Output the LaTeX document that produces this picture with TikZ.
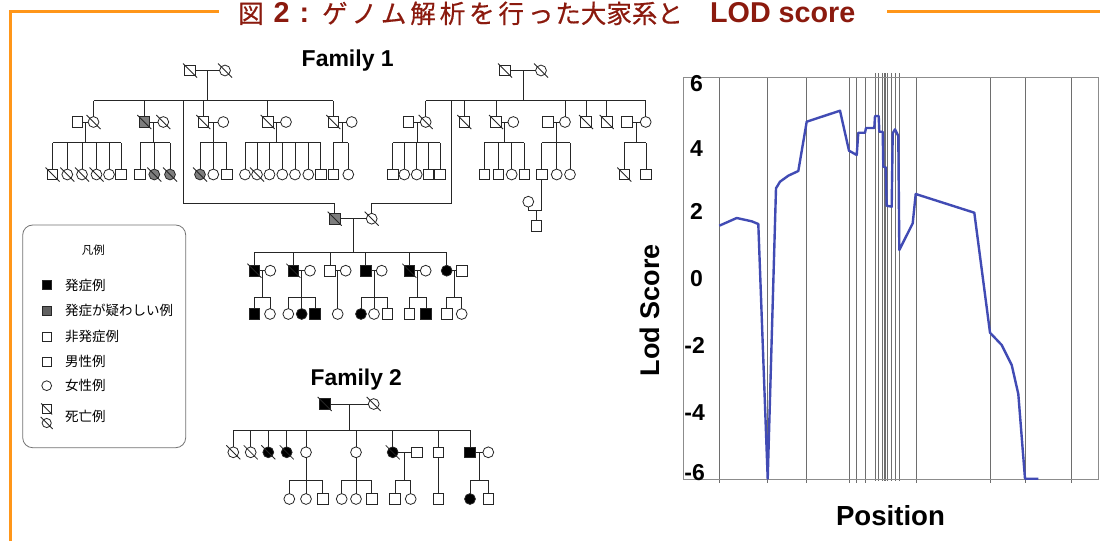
\documentclass[tikz,border=0pt]{standalone}
\usepackage{fontspec}
\setmainfont{Liberation Sans}
\newfontfamily\cjk{Noto Sans CJK JP}
\newfontfamily\cjkb[FakeBold=0.5]{Noto Sans CJK JP}
\definecolor{ttl}{RGB}{139,26,14}
\definecolor{org}{RGB}{255,150,25}
\definecolor{crv}{RGB}{65,75,180}
\definecolor{susc}{RGB}{125,125,125}
\definecolor{grd}{RGB}{110,110,110}
\newcommand\jb[2]{\makebox[#1][c]{#2}}
\newcommand\fs[1]{\fontsize{#1}{#1}\selectfont}
\newcommand\kids[6]{%
  \draw[pl] (#1,#2) -- (#1,#3);
  \draw[pl] (#4.north |- 0,#3) -- (#5.north |- 0,#3);
  \foreach \kk in {#6} {\draw[pl] (\kk.north) -- (\kk.north |- 0,#3);}%
}
\tikzset{
  pl/.style={draw=black!85, line width=0.8pt},
  sym/.style={draw=black!85, line width=0.8pt, inner sep=0pt, outer sep=0pt, fill=white},
  M/.style={sym, rectangle, minimum size=10.6pt},
  F/.style={sym, circle, minimum size=10.8pt},
  aff/.style={fill=black},
  sus/.style={fill=susc},
  lm/.style={sym, rectangle, minimum size=9.6pt},
  lf/.style={sym, circle, minimum size=9.8pt},
  ltxt/.style={anchor=west, inner sep=0pt, font=\cjk\fs{13.5}},
  ylab/.style={anchor=east, inner sep=0pt, font=\bfseries\fs{23}},
  ttxt/.style={inner sep=0pt, text=ttl},
}
\begin{document}
\begin{tikzpicture}[x=1pt,y=-1pt]
\useasboundingbox (0,0) rectangle (1100,541);
\fill[white] (0,0) rectangle (1100,541);
% ---------- frame and title ----------
\draw[org, line width=2.7pt] (10.7,541) -- (10.7,11.7) -- (219,11.7);
\draw[org, line width=2.7pt] (887,11.7) -- (1100,11.7);
\node[ttxt, anchor=base west, font=\cjkb\fs{25.5}] (t1) at (238,23) {図};
\node[ttxt, anchor=base west, font=\bfseries\fs{28.7}] (t2) at (273.5,22) {2};
\node[ttxt, anchor=base, font=\bfseries\fs{28.7}] (t3) at (304.5,22) {:};
\node[ttxt, anchor=base west, font=\cjkb\fs{25.5}] (t4) at (320,23)
 {\jb{29.4pt}{ゲ}\jb{29.4pt}{ノ}\jb{29.4pt}{ム}\jb{29.4pt}{解}\jb{29.4pt}{析}\jb{29.4pt}{を}\jb{29.4pt}{行}\jb{29.4pt}{っ}\jb{25.5pt}{た}\jb{25.5pt}{大}\jb{25.5pt}{家}\jb{25.5pt}{系}\jb{25.5pt}{と}};
\node[ttxt, anchor=base west, font=\bfseries\fs{28.7}] (t5) at (710,22) {LOD score};
% ---------- labels ----------
\node[anchor=base west, inner sep=0pt, font=\bfseries\fs{23}] (fam1) at (301.5,66.5) {Family 1};
\node[anchor=base west, inner sep=0pt, font=\bfseries\fs{22.8}] (fam2) at (310.5,385) {Family 2};
% ---------- Family 1 left branch ----------
\node[M] (L0s) at (190,70.5) {};
\node[F] (L0c) at (225,70.5) {};
\node[M] (L1s) at (77.5,122) {};
\node[F] (L1c) at (93.5,122) {};
\node[M,sus] (L2s) at (144.3,122) {};
\node[F] (L2c) at (163.3,122) {};
\node[M] (L3s) at (203.3,122) {};
\node[F] (L3c) at (223.3,122) {};
\node[M] (L4s) at (267.7,122) {};
\node[F] (L4c) at (286,122) {};
\node[M] (L5s) at (333.3,122) {};
\node[F] (L5c) at (351.7,122) {};
\node[M] (L1k1) at (52.5,174.5) {};
\node[F] (L1k2) at (67.3,174.5) {};
\node[F] (L1k3) at (82,174.5) {};
\node[F] (L1k4) at (96.5,174.5) {};
\node[F] (L1k5) at (109,174.5) {};
\node[M] (L1k6) at (121,174.5) {};
\node[M] (L2k1) at (140,174.5) {};
\node[F,sus] (L2k2) at (154.3,174.5) {};
\node[F,sus] (L2k3) at (170,174.5) {};
\node[F,sus] (L3k1) at (200,174.5) {};
\node[F] (L3k2) at (213.3,174.5) {};
\node[M] (L3k3) at (226.7,174.5) {};
\node[F] (L4k1) at (245,174.5) {};
\node[F] (L4k2) at (257,174.5) {};
\node[F] (L4k3) at (269.5,174.5) {};
\node[F] (L4k4) at (282.3,174.5) {};
\node[F] (L4k5) at (295,174.5) {};
\node[F] (L4k6) at (308.3,174.5) {};
\node[M] (L4k7) at (320.7,174.5) {};
\node[M] (L5k1) at (333.3,174.5) {};
\node[F] (L5k2) at (348.3,174.5) {};
\draw[pl] (L0s) -- (L0c);
\kids{207.5}{70.5}{100.7}{L1c}{L5s}{L1c,L2s,L3s,L4s,L5s}
\draw[pl] (L1s) -- (L1c);  \kids{85.5}{122}{142.7}{L1k1}{L1k6}{L1k1,L1k2,L1k3,L1k4,L1k5,L1k6}
\draw[pl] (L2s) -- (L2c);  \kids{153.8}{122}{142.7}{L2k1}{L2k3}{L2k1,L2k2,L2k3}
\draw[pl] (L3s) -- (L3c);  \kids{213.3}{122}{142.7}{L3k1}{L3k3}{L3k1,L3k2,L3k3}
\draw[pl] (L4s) -- (L4c);  \kids{276.8}{122}{142.7}{L4k1}{L4k7}{L4k1,L4k2,L4k3,L4k4,L4k5,L4k6,L4k7}
\draw[pl] (L5s) -- (L5c);  \kids{342.5}{122}{142.7}{L5k1}{L5k2}{L5k1,L5k2}
% ---------- Family 1 right branch ----------
\node[M] (R0s) at (505,70.5) {};
\node[F] (R0c) at (541,70.5) {};
\node[M] (R1s) at (408.3,122) {};
\node[F] (R1c) at (425.7,122) {};
\node[M] (R2) at (464.3,122) {};
\node[M] (R3s) at (496,122) {};
\node[F] (R3c) at (513.3,122) {};
\node[M] (R4s) at (547.7,122) {};
\node[F] (R4c) at (565,122) {};
\node[M] (R5) at (586,122) {};
\node[M] (R6) at (606.7,122) {};
\node[M] (R7s) at (626.7,122) {};
\node[F] (R7c) at (645.7,122) {};
\node[M] (R1k1) at (392.7,174.5) {};
\node[F] (R1k2) at (404.3,174.5) {};
\node[F] (R1k3) at (416.7,174.5) {};
\node[M] (R1k4) at (428.5,174.5) {};
\node[M] (R1k5) at (440,174.5) {};
\node[M] (R3k1) at (484.3,174.5) {};
\node[M] (R3k2) at (498.3,174.5) {};
\node[F] (R3k3) at (511.7,174.5) {};
\node[M] (R3k4) at (524.3,174.5) {};
\node[M] (R4k1) at (541.7,174.5) {};
\node[F] (R4k2) at (556.7,174.5) {};
\node[F] (R4k3) at (570,174.5) {};
\node[M] (R7k1) at (624.3,174.5) {};
\node[M] (R7k2) at (646,174.5) {};
\node[F] (R4w) at (528.3,201.7) {};
\node[M] (R4g) at (536.3,226) {};
\draw[pl] (R0s) -- (R0c);
\kids{523}{70.5}{100.7}{R1c}{R7c}{R1c,R2,R3s,R4c,R5,R6,R7c}
\draw[pl] (R1s) -- (R1c);  \kids{417}{122}{142.5}{R1k1}{R1k5}{R1k1,R1k2,R1k3,R1k4,R1k5}
\draw[pl] (R3s) -- (R3c);  \kids{504.6}{122}{142.5}{R3k1}{R3k4}{R3k1,R3k2,R3k3,R3k4}
\draw[pl] (R4s) -- (R4c);  \kids{556.3}{122}{142.5}{R4k1}{R4k3}{R4k1,R4k2,R4k3}
\draw[pl] (R7s) -- (R7c);  \kids{636.2}{122}{142.5}{R7k1}{R7k2}{R7k1,R7k2}
\coordinate (R4m) at (536.3,210.7);
\draw[pl] (R4k1.south) -- (R4k1.south |- R4m) -- (R4w.south |- R4m) -- (R4w.south);
\draw[pl] (R4m) -- (R4g.north);
% ---------- Family 1 generation III / IV ----------
\node[M,sus] (G3s) at (334.7,218.7) {};
\node[F] (G3c) at (371.7,218.7) {};
\draw[pl] (G3s) -- (G3c);
\coordinate (jl) at (183.3,100.7);
\coordinate (jr) at (451.7,100.7);
\draw[pl] (jl) -- (183.3,203.5) -| (G3s.north);
\draw[pl] (jr) -- (451.7,203.5) -| (G3c.north);
\node[M,aff] (I1s) at (254.5,270.7) {};
\node[F] (I1c) at (270.3,270.7) {};
\node[M,aff] (I2s) at (293.3,270.7) {};
\node[F] (I2c) at (310,270.7) {};
\node[M] (I3s) at (330,270.7) {};
\node[F] (I3c) at (345.7,270.7) {};
\node[M,aff] (I4s) at (365.7,270.7) {};
\node[F] (I4c) at (381.7,270.7) {};
\node[M,aff] (I5s) at (409.3,270.7) {};
\node[F] (I5c) at (425.7,270.7) {};
\node[F,aff] (I6s) at (446.7,270.7) {};
\node[M] (I6c) at (461.7,270.7) {};
\kids{353.2}{218.7}{252.3}{I1s}{I6s}{I1s,I2s,I3s,I4s,I5s,I6s}
\node[M,aff] (V1a) at (254.3,314) {};
\node[F] (V1b) at (270,314) {};
\node[F] (V2a) at (288.3,314) {};
\node[F,aff] (V2b) at (301.7,314) {};
\node[M,aff] (V2c) at (315,314) {};
\node[F] (V3a) at (337.7,314) {};
\node[F,aff] (V4a) at (361,314) {};
\node[F] (V4b) at (374,314) {};
\node[M] (V4c) at (387.3,314) {};
\node[M] (V5a) at (409.3,314) {};
\node[M,aff] (V5b) at (426,314) {};
\node[M] (V6a) at (446.7,314) {};
\node[F] (V6b) at (461.7,314) {};
\draw[pl] (I1s) -- (I1c);  \kids{262.4}{270.7}{297.3}{V1a}{V1b}{V1a,V1b}
\draw[pl] (I2s) -- (I2c);  \kids{301.5}{270.7}{297.3}{V2a}{V2c}{V2a,V2b,V2c}
\draw[pl] (I3s) -- (I3c);  \draw[pl] (V3a.north |- I3s) -- (V3a.north);
\draw[pl] (I4s) -- (I4c);  \kids{374}{270.7}{297.3}{V4a}{V4c}{V4a,V4b,V4c}
\draw[pl] (I5s) -- (I5c);  \kids{417.8}{270.7}{297.3}{V5a}{V5b}{V5a,V5b}
\draw[pl] (I6s) -- (I6c);  \kids{454.2}{270.7}{297.3}{V6a}{V6b}{V6a,V6b}
% ---------- Family 2 ----------
\node[M,aff] (F0s) at (324.7,404) {};
\node[F] (F0c) at (373.7,404) {};
\node[F] (a1) at (233.3,452.3) {};
\node[F] (a2) at (250.7,452.3) {};
\node[F,aff] (a3) at (268.3,452.3) {};
\node[F,aff] (a4) at (286.7,452.3) {};
\node[F] (a5) at (306,452.3) {};
\node[F] (a6) at (356,452.3) {};
\node[F,aff] (a7) at (392.7,452.3) {};
\node[M] (a7h) at (416.7,452.3) {};
\node[M] (a8) at (438.3,452.3) {};
\node[M,aff] (a9) at (470,452.3) {};
\node[F] (a9w) at (488.3,452.3) {};
\node[F] (b1) at (289.3,499) {};
\node[F] (b2) at (306,499) {};
\node[M] (b3) at (322.7,499) {};
\node[F] (c1) at (341.7,499) {};
\node[F] (c2) at (356,499) {};
\node[M] (c3) at (371.7,499) {};
\node[M] (d1) at (395,499) {};
\node[F] (d2) at (410.7,499) {};
\node[M] (e1) at (438.3,499) {};
\node[F,aff] (f1) at (470,499) {};
\node[M] (f2) at (488.3,499) {};
\draw[pl] (F0s) -- (F0c);
\kids{349.2}{404}{430}{a1}{a9}{a1,a2,a3,a4,a5,a6,a7,a8,a9}
\kids{306}{457.7}{480}{b1}{b3}{b1,b2,b3}
\kids{356}{457.7}{480}{c1}{c3}{c1,c2,c3}
\draw[pl] (a7) -- (a7h);  \kids{404.7}{452.3}{480}{d1}{d2}{d1,d2}
\draw[pl] (a8) -- (e1);
\draw[pl] (a9) -- (a9w);  \kids{479.2}{452.3}{480}{f1}{f2}{f1,f2}
% ---------- deceased slashes ----------
\foreach \n in {L0s,L0c,L1c,L2s,L2c,L3s,L4s,L5s,L1k1,L1k2,L1k3,L1k4,L2k2,L2k3,L3k1,L4k2,
  R0s,R0c,R1c,R2,R3s,R5,R6,R7k1,G3s,G3c,I1s,I2s,I5s,F0s,F0c,a1,a2,a3,a4,a7}
  {\draw[pl] (\n.center) +(-7,-7) -- +(7,7);}
% ---------- legend ----------
\draw[draw=black!55, line width=0.8pt, rounded corners=10pt] (22.7,225) rectangle (185.7,447.7);
\node[inner sep=0pt, font=\cjk\fs{11.5}] (lgt) at (93.3,250) {凡例};
\node[lm,aff] (lg1) at (46.7,285) {};
\node[ltxt] (lt1) at (65,285) {発症例};
\node[lm,fill=black!62] (lg2) at (46.7,310.7) {};
\node[ltxt] (lt2) at (65,310.7) {発症が疑わしい例};
\node[lm] (lg3) at (46.7,336.7) {};
\node[ltxt] (lt3) at (65,336.7) {非発症例};
\node[lm] (lg4) at (46.7,361.7) {};
\node[ltxt] (lt4) at (65,361.7) {男性例};
\node[lf] (lg5) at (46.7,385.7) {};
\node[ltxt] (lt5) at (65,385.7) {女性例};
\node[sym, rectangle, minimum size=8.4pt] (lg6a) at (46.7,409) {};
\node[sym, circle, minimum size=9.2pt] (lg6b) at (46.7,423) {};
\draw[pl] (lg6a.center) +(-5.5,-5.5) -- +(5.5,5.5);
\draw[pl] (lg6b.center) +(-6,-6) -- +(6,6);
\node[ltxt] (lt6) at (65,416.7) {死亡例};
% ---------- LOD plot ----------
\foreach \x in {719.3,767.7,806.7,849,856.7,865.5,916,990,1025,1071.7}
  {\draw[grd, line width=0.7pt] (\x,77) -- (\x,483);}
\foreach \x in {875.5,878.7,882.7,884.2,885.7,887.2,891.7,895,899}
  {\draw[grd, line width=0.6pt] (\x,73) -- (\x,481);}
\draw[black!45, line width=1pt] (683,77) rectangle (1098,479);
\draw[crv, line width=2.4pt, line join=round]
  (719.3,225.7) -- (736.7,218) -- (751.7,221.3) -- (758.3,224) -- (767.7,478.7)
  -- (776,188.3) -- (780,181.7) -- (788.3,175.7) -- (798.3,171) -- (806.7,121.7)
  -- (840,110.7) -- (849,150.7) -- (856.7,155) -- (858.3,132.7) -- (865,132.7)
  -- (866,128) -- (874.3,128) -- (875,116) -- (878.7,116) -- (879.3,131.7)
  -- (882.7,131.7) -- (883.3,166.7) -- (885.7,167.3) -- (886.7,205.7) -- (891.7,206.7)
  -- (892.7,133.3) -- (895,129.3) -- (898.3,136) -- (899.3,250) -- (912.7,223.3)
  -- (915.7,194) -- (974.3,212.7) -- (990,332.7) -- (1001.7,345) -- (1011.7,365)
  -- (1018.3,394) -- (1025,478.7) -- (1038.3,478.7);
\node[ylab] (y6) at (703,84) {6};
\node[ylab] (y4) at (703,148.3) {4};
\node[ylab] (y2) at (703,211.7) {2};
\node[ylab] (y0) at (703,279) {0};
\node[ylab] (ym2) at (705,345) {-2};
\node[ylab] (ym4) at (705,413) {-4};
\node[ylab] (ym6) at (705,473) {-6};
\node[rotate=90, inner sep=0pt, font=\bfseries\fs{27}] (ylabel) at (650,310) {Lod Score};
\node[anchor=base, inner sep=0pt, font=\bfseries\fs{27.6}] (xlabel) at (890.5,525) {Position};
\end{tikzpicture}
\end{document}
